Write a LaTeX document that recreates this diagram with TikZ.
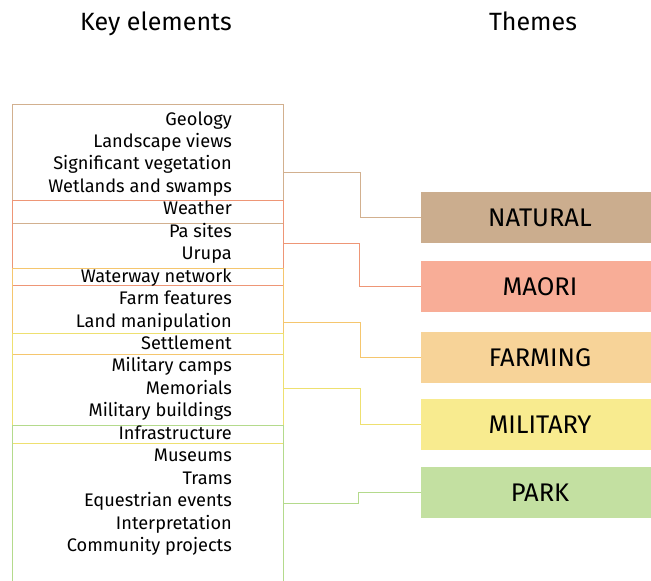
\documentclass[tikz,border=0pt]{standalone}
\usepackage{fontspec}
\setmainfont{Fira Sans}
\definecolor{natfill}{HTML}{CBAD8E}
\definecolor{maofill}{HTML}{F8AD97}
\definecolor{farfill}{HTML}{F7D398}
\definecolor{milfill}{HTML}{F8EB8F}
\definecolor{parfill}{HTML}{C3E0A1}
\definecolor{natline}{HTML}{D2B08F}
\definecolor{maoline}{HTML}{EE9676}
\definecolor{farline}{HTML}{F5C66E}
\definecolor{milline}{HTML}{EEE070}
\definecolor{parline}{HTML}{B4DA8C}
\tikzset{
  grp/.style={draw=#1, line width=0.9pt, anchor=north west, minimum width=271pt, inner sep=0pt, outer sep=0pt},
  theme/.style={fill=#1, anchor=north west, minimum width=230pt, minimum height=51pt, inner sep=0pt, outer sep=0pt, text=black, font=\fontsize{25.5}{30}\selectfont},
  item/.style={anchor=base east, inner sep=0pt, text=black, font=\fontsize{18.2}{21}\selectfont},
  ttl/.style={anchor=base, inner sep=0pt, text=black, font=\fontsize{25}{29}\selectfont},
  conn/.style={draw=#1, line width=0.9pt}
}
\begin{document}
\begin{tikzpicture}[x=1pt,y=-1pt]
\useasboundingbox (0,0) rectangle (651,581);
\node[ttl] (t1) at (156,30) {Key elements};
\node[ttl] (t2) at (533,30) {Themes};
% group boxes
\node[grp=natline, minimum height=119pt] (gNat) at (12,104) {};
\node[grp=maoline, minimum height=85pt] (gMao) at (12,200) {};
\node[grp=farline, minimum height=86pt] (gFar) at (12,268) {};
\node[grp=milline, minimum height=110pt] (gMil) at (12,333) {};
\node[grp=parline, minimum height=170pt] (gPar) at (12,425) {};
% items
\foreach \t [count=\i from 0] in {Geology,Landscape views,Significant vegetation,Wetlands and swamps,Weather,Pa sites,Urupa,Waterway network,Farm features,Land manipulation,Settlement,Military camps,Memorials,Military buildings,Infrastructure,Museums,Trams,Equestrian events,Interpretation,Community projects}
  \node[item] (i\i) at (232,{125+22.45*\i}) {\t};
% themes
\node[theme=natfill] (tNat) at (421,192) {\hspace*{8pt}NATURAL};
\node[theme=maofill] (tMao) at (421,261) {\hspace*{8pt}MAORI};
\node[theme=farfill] (tFar) at (421,332) {\hspace*{8pt}FARMING};
\node[theme=milfill] (tMil) at (421,399) {\hspace*{8pt}MILITARY};
\node[theme=parfill] (tPar) at (421,467) {\hspace*{8pt}PARK};
% connectors
\draw[conn=natline] (gNat.east |- 0,172) -- ++(77,0) |- (tNat.west);
\draw[conn=maoline] (gMao.east |- 0,243) -- ++(76,0) |- (tMao.west);
\draw[conn=farline] (gFar.east |- 0,322) -- ++(77,0) |- (tFar.west);
\draw[conn=milline] (gMil.east |- 0,388) -- ++(77,0) |- (tMil.west);
\draw[conn=parline] (gPar.east |- 0,503) -- ++(75,0) |- (tPar.west);
\end{tikzpicture}
\end{document}
